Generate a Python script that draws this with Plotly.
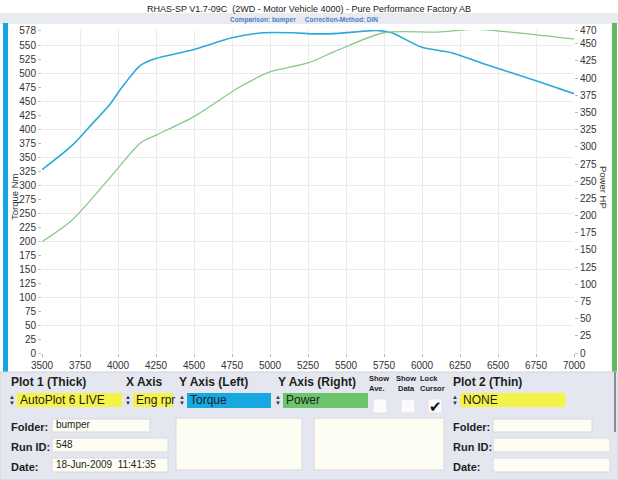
import plotly.graph_objects as go

# ---------------- data ----------------
rpm_torque = [3500, 3700, 3830, 3950, 4025, 4150, 4250, 4500, 4750, 4950, 5150, 5300,
              5450, 5700, 5800, 6000, 6200, 6400, 6750, 7000]
torque_nm = [328, 372, 410, 446, 475, 515, 527, 543, 564, 573, 573, 571,
             572, 577, 573, 547, 537, 518, 487, 464]

rpm_power = [3500, 3700, 3950, 4150, 4250, 4500, 4800, 5000, 5250, 5450, 5750,
             6100, 6350, 6750, 7000]
power_hp = [162, 194, 256, 306, 317, 344, 387, 409, 422, 441, 466,
            467, 471, 463, 457]

x_ticks = list(range(3500, 7001, 250))
left_ticks = list(range(0, 551, 25)) + [578]
right_ticks = list(range(0, 451, 25)) + [470]
left_grid = list(range(0, 551, 50))

title_text = "RHAS-SP V1.7-09C  (2WD - Motor Vehicle 4000) - Pure Performance Factory AB"
subtitle_text = "Comparison: bumper     Correction-Method: DIN"

# ---------------- layout helpers ----------------
W, H = 618, 480
L, R, T, B = 42, 574, 30, 353


def px(x):
    return (x - L) / (R - L)


def py(y):
    return (B - y) / (B - T)


FONT = "Arial, Liberation Sans, sans-serif"
shapes = []
annotations = []


def rect(x0, y0, x1, y1, fill, line=None, lw=0):
    shapes.append(dict(type="rect", xref="paper", yref="paper",
                       x0=px(x0), x1=px(x1), y0=py(y1), y1=py(y0),
                       fillcolor=fill, line=dict(color=line or fill, width=lw),
                       layer="above"))


def text(x, y, s, size=11, bold=False, color="#1e1e1e", anchor="left", angle=0):
    annotations.append(dict(xref="paper", yref="paper", x=px(x), y=py(y),
                            text=("<b>%s</b>" % s) if bold else s,
                            showarrow=False, xanchor=anchor, yanchor="middle",
                            textangle=angle,
                            font=dict(family=FONT, size=size, color=color)))


def updown(x, y):
    text(x, y - 3, "▲", size=6, color="#333", anchor="center")
    text(x, y + 3, "▼", size=6, color="#333", anchor="center")


# top band and side bars
rect(0, 13, 618, 24, "#e9ebf0")
rect(3, 23, 8, 372, "#18a6e2")
rect(612, 23, 617, 372, "#63b963")

# bottom panel
rect(0, 372, 618, 480, "#e4e7ef", "#cfd3dc", 1)
rect(614, 372, 616, 432, "#8a8d93")

# header labels
text(9, 382, "Plot 1 (Thick)", 12, True)
text(124, 382, "X Axis", 12, True)
text(177, 382, "Y Axis (Left)", 12, True)
text(276, 382, "Y Axis (Right)", 12, True)
text(367, 378, "Show", 7.5, True)
text(367, 388, "Ave.", 7.5, True)
text(394, 378, "Show", 7.5, True)
text(396, 388, "Data", 7.5, True)
text(418, 378, "Lock", 7.5, True)
text(418, 388, "Cursor", 7.5, True)
text(451, 382, "Plot 2 (Thin)", 12, True)

# selector boxes
rect(17, 393, 122, 407, "#f6f348")
updown(12, 400)
text(18, 400, "AutoPlot 6 LIVE", 12)
rect(133, 393, 173, 407, "#f6f348")
updown(128, 400)
text(134, 400, "Eng rpr", 12)
rect(187, 393, 271, 408, "#17a8e1")
updown(182, 400)
text(188, 400, "Torque", 12)
rect(283, 393, 368, 408, "#6cc56c")
updown(278, 400)
text(284, 400, "Power", 12)
rect(460, 393, 565, 407, "#f6f348")
updown(455, 400)
text(461, 400, "NONE", 12)

# checkboxes
for cx in (373, 401, 428):
    rect(cx, 399, cx + 14, 413, "#fbfbfb", "#e0e2e8", 1)
text(435, 406, "✔", 15, color="#111", anchor="center")

# info fields (left)
text(9, 427, "Folder:", 11, True)
rect(52, 419, 150, 432, "#fdfdf3", "#d6d8de", 1)
text(54, 425, "bumper", 10)
text(9, 447, "Run ID:", 11, True)
rect(52, 438, 168, 452, "#fdfdf3", "#d6d8de", 1)
text(54, 444, "548", 10)
text(9, 467, "Date:", 11, True)
rect(52, 458, 168, 472, "#fdfdf3", "#d6d8de", 1)
text(54, 464, "18-Jun-2009  11:41:35", 10)

# middle empty boxes
rect(176, 418, 302, 470, "#fdfdf3", "#d6d8de", 1)
rect(314, 418, 444, 470, "#fdfdf3", "#d6d8de", 1)

# info fields (right)
text(451, 427, "Folder:", 11, True)
rect(493, 419, 592, 432, "#fdfdf3", "#d6d8de", 1)
text(451, 447, "Run ID:", 11, True)
rect(493, 438, 610, 452, "#fdfdf3", "#d6d8de", 1)
text(451, 467, "Date:", 11, True)
rect(493, 458, 610, 472, "#fdfdf3", "#d6d8de", 1)

# titles
text(309, 9, title_text, 9, color="#222", anchor="center")
text(304, 19.5, subtitle_text, 6.5, True, color="#4a7dc9", anchor="center")
text(14, 197, "Torque Nm", 9.5, color="#333", anchor="center", angle=-90)
text(603, 187, "Power HP", 9.5, color="#333", anchor="center", angle=90)

# ---------------- figure ----------------
fig = go.Figure()
fig.add_trace(go.Scatter(x=rpm_power, y=power_hp, yaxis="y2", mode="lines",
                         line=dict(color="#86cb86", width=1.3, shape="spline", smoothing=0.8),
                         hoverinfo="skip", showlegend=False))
fig.add_trace(go.Scatter(x=rpm_torque, y=torque_nm, mode="lines",
                         line=dict(color="#2aaad8", width=1.6, shape="spline", smoothing=0.8),
                         hoverinfo="skip", showlegend=False))

tickfont = dict(family=FONT, size=10, color="#333")
fig.update_layout(
    width=W, height=H,
    margin=dict(l=L, r=W - R, t=T, b=H - B, pad=0),
    paper_bgcolor="white", plot_bgcolor="white",
    showlegend=False,
    xaxis=dict(range=[3500, 7000], tickmode="array", tickvals=x_ticks,
               ticks="outside", ticklen=3, tickcolor="#bbbbbb",
               showgrid=True, gridcolor="#ebebeb", gridwidth=1,
               zeroline=False, showline=False, tickfont=tickfont),
    yaxis=dict(range=[0, 578], tickmode="array", tickvals=left_ticks,
               ticks="outside", ticklen=3, tickcolor="#bbbbbb",
               showgrid=False, zeroline=False, showline=False, tickfont=tickfont,
               minor=dict(tickmode="array", tickvals=left_grid, showgrid=True,
                          gridcolor="#ebebeb", ticks="")),
    yaxis2=dict(range=[0, 470], tickmode="array", tickvals=right_ticks,
                overlaying="y", side="right",
                ticks="outside", ticklen=3, tickcolor="#bbbbbb",
                showgrid=False, zeroline=False, showline=False, tickfont=tickfont),
    shapes=shapes,
    annotations=annotations,
)

fig.write_html("out.html", config={"displayModeBar": False},
               post_script="document.body.style.margin='0';document.body.style.overflow='hidden';")
